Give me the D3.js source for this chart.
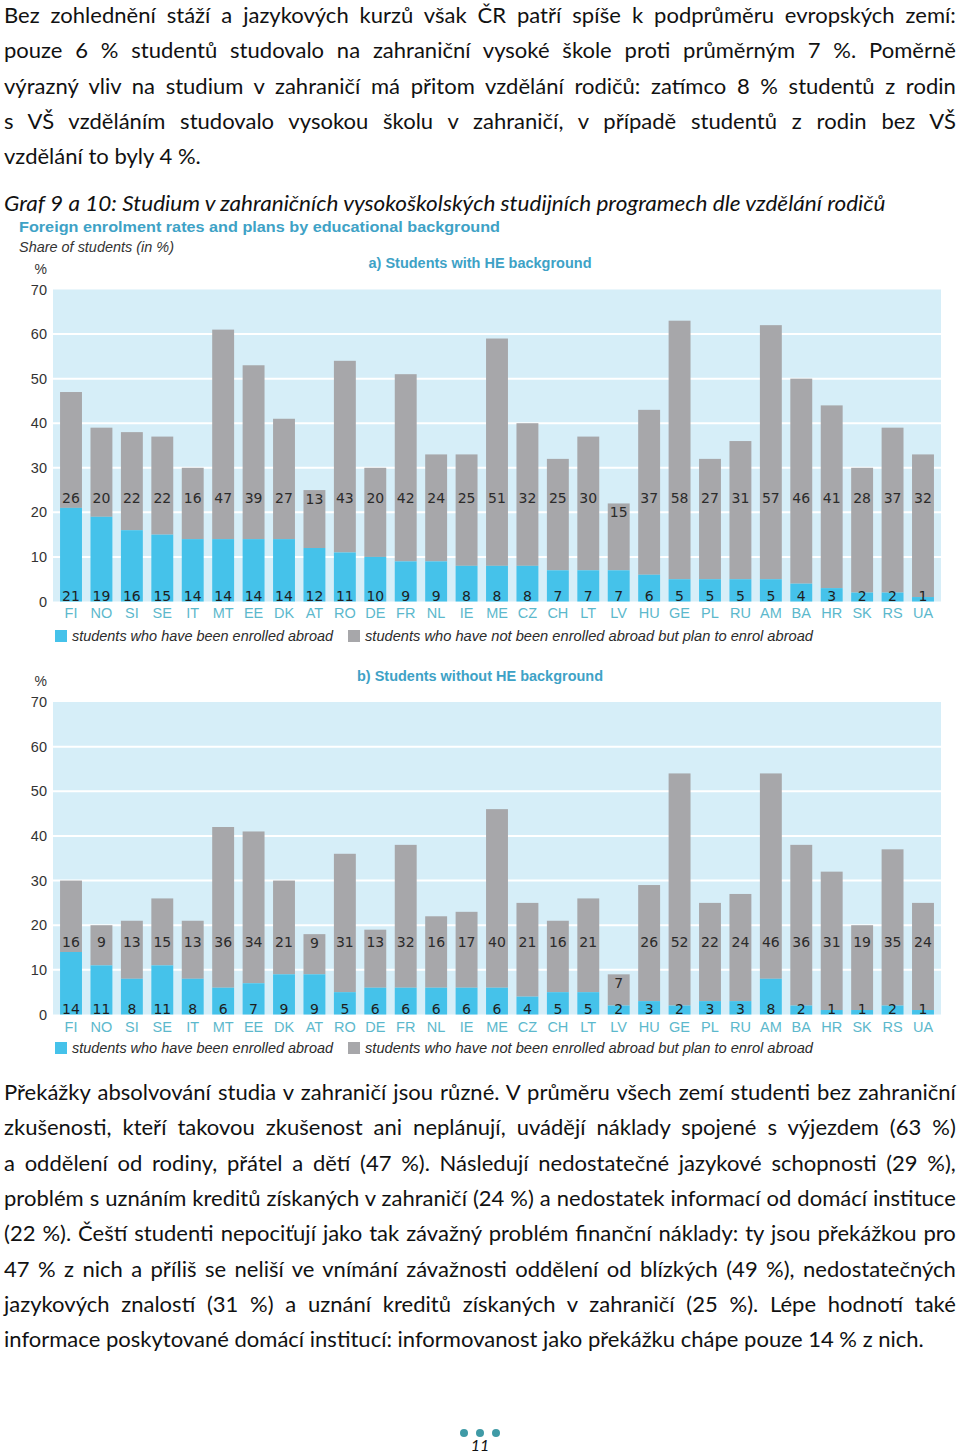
<!DOCTYPE html>
<html><head><meta charset="utf-8">
<script src="https://cdn.jsdelivr.net/npm/d3@7"></script>
<style>body{margin:0;background:#fff}svg{display:block}</style>
</head><body>
<svg id="page" width="960" height="1456"></svg>
<script>
// ---------- DATA ----------
const countries = ["FI","NO","SI","SE","IT","MT","EE","DK","AT","RO","DE","FR","NL","IE","ME","CZ","CH","LT","LV","HU","GE","PL","RU","AM","BA","HR","SK","RS","UA"];
const enrolledA = [21,19,16,15,14,14,14,14,12,11,10,9,9,8,8,8,7,7,7,6,5,5,5,5,4,3,2,2,1];
const planA     = [26,20,22,22,16,47,39,27,13,43,20,42,24,25,51,32,25,30,15,37,58,27,31,57,46,41,28,37,32];
const enrolledB = [14,11,8,11,8,6,7,9,9,5,6,6,6,6,6,4,5,5,2,3,2,3,3,8,2,1,1,2,1];
const planB     = [16,9,13,15,13,36,34,21,9,31,13,32,16,17,40,21,16,21,7,26,52,22,24,46,36,31,19,35,24];
const yTicks = [0,10,20,30,40,50,60,70];
const legendLabels = ["students who have been enrolled abroad","students who have not been enrolled abroad but plan to enrol abroad"];
const panelTitles = ["a) Students with HE background","b) Students without HE background"];
const chartTitle = "Foreign enrolment rates and plans by educational background";
const chartSubtitle = "Share of students (in %)";
const caption = "Graf 9 a 10: Studium v zahraničních vysokoškolských studijních programech dle vzdělání rodičů";
const para1 = [
 "Bez zohlednění stáží a jazykových kurzů však ČR patří spíše k podprůměru evropských zemí:",
 "pouze 6 % studentů studovalo na zahraniční vysoké škole proti průměrným 7 %. Poměrně",
 "výrazný vliv na studium v zahraničí má přitom vzdělání rodičů: zatímco 8 % studentů z rodin",
 "s VŠ vzděláním studovalo vysokou školu v zahraničí, v případě studentů z rodin bez VŠ",
 "vzdělání to byly 4 %."
];
const para2 = [
 "Překážky absolvování studia v zahraničí jsou různé. V průměru všech zemí studenti bez zahraniční",
 "zkušenosti, kteří takovou zkušenost ani neplánují, uvádějí náklady spojené s výjezdem (63 %)",
 "a oddělení od rodiny, přátel a dětí (47 %). Následují nedostatečné jazykové schopnosti (29 %),",
 "problém s uznáním kreditů získaných v zahraničí (24 %) a nedostatek informací od domácí instituce",
 "(22 %). Čeští studenti nepociťují jako tak závažný problém finanční náklady: ty jsou překážkou pro",
 "47 % z nich a příliš se neliší ve vnímání závažnosti oddělení od blízkých (49 %), nedostatečných",
 "jazykových znalostí (31 %) a uznání kreditů získaných v zahraničí (25 %). Lépe hodnotí také",
 "informace poskytované domácí institucí: informovanost jako překážku chápe pouze 14 % z nich."
];
const pageNumber = "11";

// ---------- STYLE ----------
const C = {blue:"#45c2ea", gray:"#a7a7aa", bg:"#d6eef8", teal:"#3ea2c6", country:"#5cb8cc"};
const bodyFont = "Lato, 'Liberation Sans', sans-serif";
const chartFont = "'Liberation Sans', Arial, sans-serif";
const numFont = "'DejaVu Sans', 'Liberation Sans', sans-serif";
const svg = d3.select("#page");

// ---------- BODY TEXT (justified, horizontally condensed to mimic Calibri) ----------
const bodySize = 21;
function measure(str, italic) {
  const t = svg.append("text").attr("font-family", bodyFont).attr("font-size", bodySize)
    .attr("font-style", italic ? "italic" : "normal").text(str);
  const w = t.node().getComputedTextLength(); t.remove(); return w;
}
const kBody = 920 / measure(para2[para2.length - 1], false);
function textLine(str, x, y, target, justify, italic) {
  const w = measure(str, italic);
  const k = italic ? target / w : kBody;
  const t = svg.append("text").attr("transform", `translate(${x},${y}) scale(${k},1)`)
    .attr("font-family", bodyFont).attr("font-size", bodySize)
    .attr("font-style", italic ? "italic" : "normal").attr("fill", "#111").text(str);
  const gaps = str.split(" ").length - 1;
  if (justify && gaps > 0) t.attr("word-spacing", (target - w * k) / gaps / k);
}
const lh = 35.3;
para1.forEach((s, i) => textLine(s, 4, 23 + i * lh, 952, i < para1.length - 1, false));
textLine(caption, 4, 211, 882, false, true);
para2.forEach((s, i) => textLine(s, 4, 1100 + i * lh, 952, i < para2.length - 1, false));

// ---------- CHART HEADER ----------
function fitText(sel, w) { return sel.attr("textLength", w).attr("lengthAdjust", "spacingAndGlyphs"); }
fitText(svg.append("text").attr("x", 19).attr("y", 232).attr("font-family", chartFont)
  .attr("font-weight", "bold").attr("font-size", 15.5).attr("fill", C.teal).text(chartTitle), 481);
fitText(svg.append("text").attr("x", 19).attr("y", 252).attr("font-family", chartFont)
  .attr("font-style", "italic").attr("font-size", 14).attr("fill", "#333").text(chartSubtitle), 155);

// ---------- PANELS ----------
const x = d3.scaleBand().domain(countries).range([55.8, 938.2]).paddingInner(0.28).paddingOuter(0.14);

const panels = [
  {title: panelTitles[0], titleW: 223, enrolled: enrolledA, plan: planA, y0: 601.5, y70: 289.5, titleY: 268, topLabelY: 498, botLabelY: 596, countryY: 613, legendY: 636},
  {title: panelTitles[1], titleW: 246, enrolled: enrolledB, plan: planB, y0: 1014.5, y70: 702, titleY: 681, topLabelY: 942, botLabelY: 1009, countryY: 1027, legendY: 1048}
];

panels.forEach(p => {
  const y = d3.scaleLinear().domain([0, 70]).range([p.y0, p.y70]);
  const g = svg.append("g");
  g.append("rect").attr("x", 53).attr("y", y(70)).attr("width", 888).attr("height", y(0) - y(70)).attr("fill", C.bg);
  g.selectAll("line.grid").data(yTicks.filter(d => d > 0 && d < 70)).join("line")
    .attr("x1", 53).attr("x2", 941).attr("y1", d => y(d)).attr("y2", d => y(d))
    .attr("stroke", "#fff").attr("stroke-width", 2);
  const ax = g.append("g").attr("transform", "translate(47,0)")
    .call(d3.axisLeft(y).tickValues(yTicks).tickSize(0).tickPadding(0));
  ax.select(".domain").remove();
  ax.selectAll("text").attr("font-family", chartFont).attr("font-size", 14.5).attr("fill", "#333");
  g.append("text").attr("x", 47).attr("y", y(70) - 16).attr("text-anchor", "end")
    .attr("font-family", chartFont).attr("font-size", 14).attr("fill", "#333").text("%");
  fitText(g.append("text").attr("x", 480 - p.titleW / 2).attr("y", p.titleY)
    .attr("font-family", chartFont).attr("font-weight", "bold").attr("font-size", 14).attr("fill", C.teal).text(p.title), p.titleW);
  const rows = countries.map((c, i) => ({c, e: p.enrolled[i], pl: p.plan[i]}));
  g.selectAll("rect.plan").data(rows).join("rect")
    .attr("x", d => x(d.c)).attr("width", x.bandwidth())
    .attr("y", d => y(d.e + d.pl)).attr("height", d => y(d.e) - y(d.e + d.pl)).attr("fill", C.gray);
  g.selectAll("rect.enr").data(rows).join("rect")
    .attr("x", d => x(d.c)).attr("width", x.bandwidth())
    .attr("y", d => y(d.e)).attr("height", d => y(0) - y(d.e)).attr("fill", C.blue);
  g.selectAll("text.top").data(rows).join("text")
    .attr("x", d => x(d.c) + x.bandwidth() / 2)
    .attr("y", d => Math.max(p.topLabelY, y(d.e + d.pl) + 9))
    .attr("dy", "0.36em").attr("text-anchor", "middle")
    .attr("font-family", numFont).attr("font-size", 14).attr("fill", "#2b2b2b").text(d => d.pl);
  g.selectAll("text.bot").data(rows).join("text")
    .attr("x", d => x(d.c) + x.bandwidth() / 2).attr("y", p.botLabelY)
    .attr("dy", "0.36em").attr("text-anchor", "middle")
    .attr("font-family", numFont).attr("font-size", 14).attr("fill", "#1e1e1e").text(d => d.e);
  g.selectAll("text.cty").data(rows).join("text")
    .attr("x", d => x(d.c) + x.bandwidth() / 2).attr("y", p.countryY)
    .attr("dy", "0.36em").attr("text-anchor", "middle")
    .attr("font-family", chartFont).attr("font-size", 14.5).attr("fill", C.country).text(d => d.c);
  const lg = [{x: 55, c: C.blue, t: legendLabels[0], w: 261}, {x: 348, c: C.gray, t: legendLabels[1], w: 448}];
  lg.forEach(l => {
    g.append("rect").attr("x", l.x).attr("y", p.legendY - 6).attr("width", 12).attr("height", 12).attr("fill", l.c);
    fitText(g.append("text").attr("x", l.x + 17).attr("y", p.legendY).attr("dy", "0.35em")
      .attr("font-family", chartFont).attr("font-style", "italic").attr("font-size", 14.5).attr("fill", "#2b2b2b").text(l.t), l.w);
  });
});

// ---------- FOOTER ----------
svg.selectAll("circle.dot").data([464, 480, 496]).join("circle")
  .attr("cx", d => d).attr("cy", 1433).attr("r", 4).attr("fill", "#3f9aa6");
svg.append("text").attr("x", 480).attr("y", 1451).attr("text-anchor", "middle")
  .attr("font-family", bodyFont).attr("font-style", "italic").attr("font-size", 16).attr("fill", "#111").text(pageNumber);
</script>
</body></html>
